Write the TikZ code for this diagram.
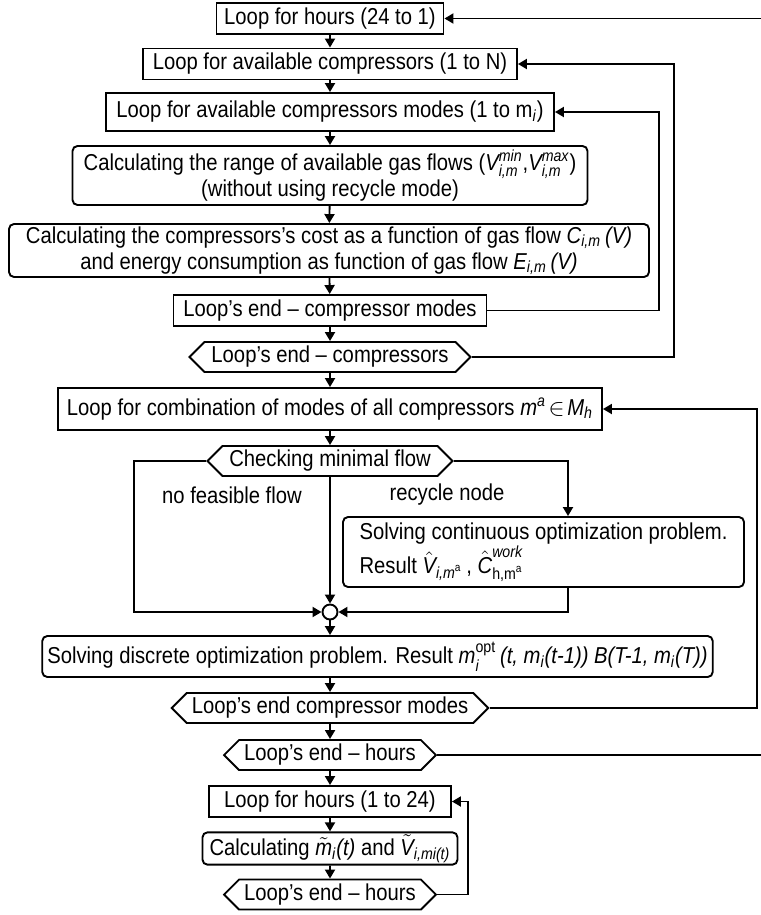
\documentclass[tikz,border=0pt]{standalone}
\usepackage{amsmath}
\usepackage{fontspec}
\setmainfont{Liberation Sans}[FakeStretch=0.88]
\usetikzlibrary{arrows.meta,shapes.symbols}

\newcommand{\ti}[1]{\text{\itshape #1}}

\tikzset{
  flow/.style={line width=0.95pt,-{Triangle[length=4.5pt,width=5pt]}},
  loopbox/.style={draw,line width=0.95pt,inner xsep=2.5pt,inner ysep=1pt,
    minimum height=15.5pt,font=\fontsize{11.5}{13}\selectfont},
  procbox/.style={loopbox,rounded corners=2.5pt,align=center},
  endhex/.style={loopbox,signal,signal to=west and east,signal pointer angle=90},
  note/.style={font=\fontsize{11.5}{13}\selectfont},
}

\begin{document}
\begin{tikzpicture}[x=0.5pt,y=-0.5pt]
  \useasboundingbox (0,0) rectangle (760,915);
  % bus lines of the loops
  \coordinate (busL) at (134,0);
  \coordinate (busR) at (568,0);
  \coordinate (busM) at (659,0);
  \coordinate (busC) at (674,0);
  \coordinate (busK) at (757,0);
  \coordinate (busH) at (790,0);
  \coordinate (busB) at (468,0);
  % backward pass
  \node[loopbox,minimum width=113.5pt] (hrsA) at (330,18.5) {Loop for hours (24 to 1)};
  \node[loopbox,minimum width=187pt] (loopC) at (330,64) {Loop for available compressors (1 to N)};
  \node[loopbox,minimum width=224pt,minimum height=19pt] (loopM) at (330,112) {Loop for available compressors modes (1 to m$_{\ti{i}}$)};
  \node[procbox,minimum width=257.5pt,minimum height=29.5pt] (range) at (330,175.5)
    {Calculating the range of available gas flows ($\ti{V}^{\ti{min}}_{\ti{i,m}}$,$\ti{V}^{\ti{max}}_{\ti{i,m}}$)\\(without using recycle mode)};
  \node[procbox,minimum width=320pt,minimum height=26.5pt] (cost) at (329,250.5)
    {Calculating the compressors’s cost as a function of gas flow $\ti{C}_{\ti{i,m}}$\,\textit{(V)}\\and energy consumption as function of gas flow $\ti{E}_{\ti{i,m}}$\,\textit{(V)}};
  \node[loopbox,minimum width=156.5pt] (endM) at (330,310.5) {Loop’s end -- compressor modes};
  \node[endhex,minimum width=140.5pt,minimum height=15pt] (endC) at (330,357) {Loop’s end -- compressors};
  \node[loopbox,minimum width=272pt,minimum height=21pt] (combo) at (330,409)
    {Loop for combination of modes of all compressors $\ti{m}^{\ti{a}}\!\in\!\ti{M}_{\ti{h}}$};
  \node[endhex,minimum width=122.5pt,minimum height=15pt] (chk) at (330,461) {Checking minimal flow};
  \node[note] (lblNo) at (232,495) {no feasible flow};
  \node[note] (lblRe) at (447,495) {recycle node};
  \node[procbox,align=left,minimum width=200.5pt,minimum height=35pt] (solveC) at (543.5,552)
    {Solving continuous optimization problem.\\Result $\hat{\ti{V}}_{\ti{i,m}^{\text{a}}}$\,, $\hat{\ti{C}}^{\ti{work}}_{\text{h,m}^{\text{a}}}$};
  \node[circle,draw,line width=0.95pt,minimum size=7.5pt,inner sep=0pt] (join) at (330,612) {};
  \node[procbox,minimum width=332.5pt,minimum height=20.5pt] (solveD) at (377.5,656.5)
    {Solving discrete optimization problem. Result $\ti{m}^{\text{opt}}_{\ti{i}}$\,\textit{(t, m}$_{\ti{i}}$\textit{(t-1))} \textit{B(T-1, m}$_{\ti{i}}$\textit{(T))}};
  \node[endhex,minimum width=157pt,minimum height=15pt] (endK) at (330,708) {Loop’s end compressor modes};
  \node[endhex,minimum width=104pt,minimum height=15pt] (endH) at (330,755) {Loop’s end -- hours};
  % forward pass
  \node[loopbox,minimum width=121pt] (hrsB) at (330,801.5) {Loop for hours (1 to 24)};
  \node[procbox,minimum width=127.5pt] (calc) at (330,848.5)
    {Calculating $\tilde{\ti{m}}_{\ti{i}}$\textit{(t)} and $\tilde{\ti{V}}_{\ti{i,mi(t)}}$};
  \node[endhex,minimum width=105.5pt,minimum height=15pt] (endB) at (330,894.5) {Loop’s end -- hours};
  % main column
  \foreach \a/\b in {hrsA/loopC,loopC/loopM,loopM/range,range/cost,cost/endM,endM/endC,
                     endC/combo,combo/chk,chk/join,endK/endH,endH/hrsB,hrsB/calc,calc/endB}
    \draw[flow] (\a) -- (\b);
  \draw[flow] (join) -- (join |- solveD.north);
  \draw[flow] (join |- solveD.south) -- (endK);
  % branches of the flow check
  \draw[flow] (chk.west) -| (busL |- join) -- (join.west);
  \draw[flow] (chk.east) -| (busR |- solveC.north);
  \draw[flow] (busR |- solveC.south) |- (join.east);
  % loop returns
  \draw[flow] (endM.east) -- (endM.east -| busM) |- (loopM.east);
  \draw[flow] (endC.east) -- (endC.east -| busC) |- (loopC.east);
  \draw[flow] (endK.east) -- (endK.east -| busK) |- (combo.east);
  \draw[flow] (endH.east) -- (endH.east -| busH) |- (hrsA.east);
  \draw[flow] (endB.east) -- (endB.east -| busB) |- (hrsB.east);
\end{tikzpicture}
\end{document}
